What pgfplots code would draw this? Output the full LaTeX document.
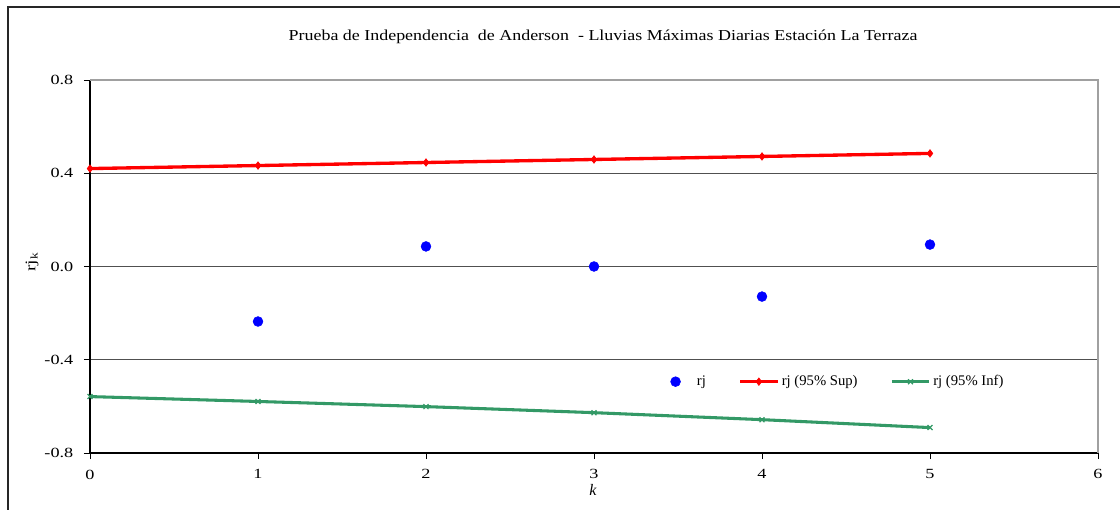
\documentclass[border=0pt]{standalone}
\usepackage{pgfplots}
\pgfplotsset{compat=1.18}
\usepackage{fontspec}
\setmainfont{Liberation Serif}
\newfontfamily\ticksfont{Liberation Serif}[FakeStretch=1.3]
\newfontfamily\titlefont{Liberation Serif}[FakeStretch=1.18]
\definecolor{rjred}{RGB}{255,0,0}
\definecolor{rjgreen}{RGB}{51,153,102}
\definecolor{rjblue}{RGB}{0,0,255}
\definecolor{gridc}{RGB}{80,80,80}
\definecolor{boxc}{RGB}{160,160,160}
\pgfplotsset{
  longline/.style={legend image code/.code={\draw[mark repeat=2,mark phase=2,##1] plot coordinates {(0pt,0pt)(14pt,0pt)(28pt,0pt)};}},
  widemark/.style={legend image code/.code={\path[draw=none,fill=none] (0pt,0pt) -- (28pt,0pt); \draw[##1] plot coordinates {(14pt,0pt)};}}
}
\begin{document}
\begin{tikzpicture}[x=1pt,y=1pt]
\path[use as bounding box] (-67.5,-42.75) rectangle (772.5,339.75);
\draw[line width=0.9pt, black!85] (-61.5,-42.75) -- (-61.5,334.5) -- (772.5,334.5);
\begin{axis}[
  at={(0,0)}, anchor=south west,
  scale only axis, width=756pt, height=279.75pt,
  xmin=0, xmax=6, ymin=-0.8, ymax=0.8,
  xtick={0,1,2,3,4,5,6},
  ytick={-0.8,-0.4,0,0.4,0.8},
  yticklabels={-0.8,-0.4,0.0,0.4,0.8},
  xticklabels={0,1,2,3,4,5,6},
  tick align=outside, major tick length=4.5pt,
  tick style={black, line width=0.6pt},
  axis x line*=bottom, axis y line*=left,
  axis line style={black, line width=0.8pt, -},
  ymajorgrids, major grid style={gridc, line width=0.6pt},
  ticklabel style={font=\ticksfont\fontsize{10.5}{12}\selectfont},
  yticklabel style={xshift=-4.5pt},
  xticklabel style={yshift=-4.5pt},
  title={Prueba de Independencia\ \ de Anderson \ - Lluvias Máximas Diarias Estación La Terraza},
  title style={at={(axis description cs:0.509,1.094)}, anchor=center, font=\titlefont\fontsize{11.4}{14}\selectfont},
  xlabel={\textit{k}},
  xlabel style={at={(axis description cs:0.499,-0.099)}, anchor=center, font=\fontsize{12}{14}\selectfont},
  ylabel={rj\textsubscript{k}},
  ylabel style={at={(axis description cs:-0.0575,0.512)}, anchor=center, font=\ticksfont\fontsize{11}{14}\selectfont},
  legend columns=3,
  legend style={draw=none, fill=none, at={(axis cs:3.349,-0.494)}, anchor=west,
    font=\fontsize{11}{13}\selectfont,
    /tikz/every even column/.append style={column sep=22.5pt}},
  clip=false,
]
\addplot[only marks, mark=*, mark size=3.7pt, color=rjblue, mark options={fill=rjblue, draw=rjblue}, widemark]
  coordinates {(1,-0.236) (2,0.086) (3,0.0) (4,-0.129) (5,0.094)};
\addlegendentry{rj}
\addplot[color=rjred, line width=2.5pt, mark=diamond*, mark size=2.8pt, mark options={fill=rjred, line width=0.5pt}, longline]
  coordinates {(0,0.420) (1,0.433) (2,0.446) (3,0.459) (4,0.472) (5,0.485)};
\addlegendentry{rj (95\% Sup)}
\addplot[color=rjgreen, line width=2.3pt, mark=x, mark size=2.6pt, mark options={line width=0.9pt}, longline]
  coordinates {(0,-0.558) (1,-0.579) (2,-0.601) (3,-0.627) (4,-0.657) (5,-0.691)};
\addlegendentry{rj (95\% Inf)}
\draw[boxc, line width=0.8pt] (axis cs:0,0.8) -- (axis cs:6,0.8) -- (axis cs:6,-0.8);
\end{axis}
\end{tikzpicture}
\end{document}
